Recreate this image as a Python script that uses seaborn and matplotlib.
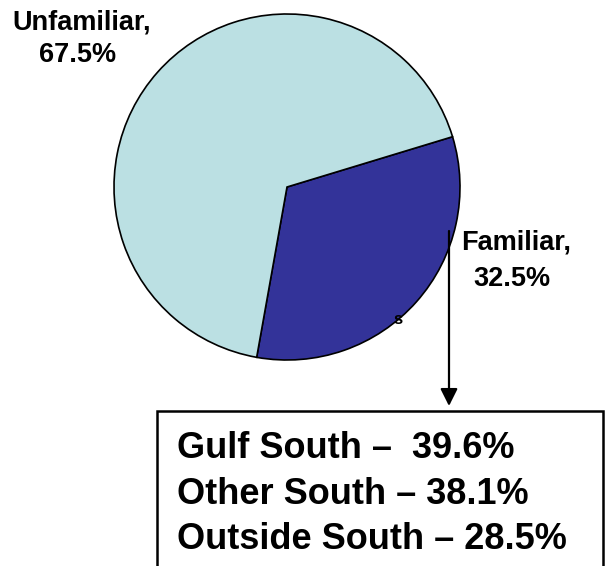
import matplotlib
matplotlib.use('Agg')
import matplotlib.pyplot as plt
import seaborn as sns
from matplotlib.patches import Rectangle

# data
labels = ['Familiar', 'Unfamiliar']
shares = [32.5, 67.5]
region_names = ['Gulf South', 'Other South', 'Outside South']
region_shares = [39.6, 38.1, 28.5]
region_gaps = ['  ', ' ', ' ']

sns.set_theme(style='white')
plt.rcParams['font.family'] = ['Liberation Sans', 'DejaVu Sans']
plt.rcParams['text.color'] = 'black'
colors = sns.color_palette(['#333399', '#BBE0E3'])

H = 566
fig = plt.figure(figsize=(6.05, 5.66), dpi=100)
ax = fig.add_axes([0, 0, 1, 1])

# pie: familiar wedge drawn clockwise from the upper right
ax.pie(shares, colors=colors, startangle=16.9, counterclock=False,
       center=(287, H - 187), radius=173,
       wedgeprops=dict(edgecolor='black', linewidth=1.2))
ax.set_xlim(0, 605)
ax.set_ylim(0, H)
ax.set_aspect('equal')
ax.axis('off')

# wedge labels
lab = dict(fontsize=19.5, fontweight='bold', color='black', zorder=5)
ax.text(82, H - 30, f'{labels[1]},', ha='center', va='baseline', **lab)
ax.text(78, H - 62, f'{shares[1]}%', ha='center', va='baseline', **lab)
ax.text(516, H - 250, f'{labels[0]},', ha='center', va='baseline', **lab)
ax.text(512, H - 286, f'{shares[0]}%', ha='center', va='baseline', **lab)
ax.text(398, H - 320, 's', ha='center', va='center',
        fontsize=12, fontweight='bold', color='black', zorder=5)

# arrow down to the breakdown box
ax.annotate('', xy=(449, H - 406), xytext=(449, H - 231),
            arrowprops=dict(arrowstyle='-|>', color='black', lw=1.6,
                            mutation_scale=26, shrinkA=0, shrinkB=0),
            zorder=6)

# breakdown box
ax.add_patch(Rectangle((157, H - 575), 446, 164, fill=False,
                       edgecolor='black', linewidth=1.8, clip_on=False))
baselines = [458, 504, 549]
for name, gap, val, yb in zip(region_names, region_gaps, region_shares, baselines):
    ax.text(177, H - yb, f'{name} –{gap}{val}%', ha='left', va='baseline',
            fontsize=26, fontweight='bold', color='black')

fig.savefig('out.png', dpi=100)
